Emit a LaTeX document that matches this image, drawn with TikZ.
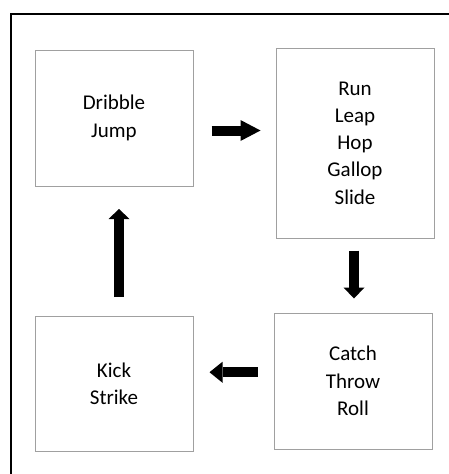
\documentclass[tikz,border=0pt]{standalone}
\usepackage{fontspec}
\setmainfont{Carlito}
\usetikzlibrary{arrows.meta,calc}

\begin{document}
\begin{tikzpicture}[x=1pt,y=-1pt]
    % Define colors
    \definecolor{boxcolor}{RGB}{160,160,160}
    \tikzset{
        skill/.style={draw=boxcolor, line width=1pt, minimum width=158pt, inner sep=0pt,
            align=center, font=\fontsize{21}{27.3}\selectfont},
        blockarrow/.style={line width=10pt, -{Triangle[length=#1, width=21pt, line width=0pt]}},
        blockarrow/.default=12pt
    }

    % Page size
    \useasboundingbox (0,0) rectangle (449,474);

    % Outer frame
    \draw[line width=2pt] (11,474) -- (11,14) -- (449,14);

    % Skill boxes
    \node[skill, minimum height=136pt] (dribble) at (114,118) {Dribble\\Jump};
    \node[skill, minimum height=190pt] (run) at (355,143) {Run\\Leap\\Hop\\Gallop\\Slide};
    \node[skill, minimum height=136pt] (catch) at (353,381) {Catch\\Throw\\Roll};
    \node[skill, minimum height=135pt] (kick) at (114,383.5) {Kick\\Strike};

    % Arrows between the boxes
    \coordinate (toRun) at ($(dribble.east)!.5!(run.west)$);
    \coordinate (toCatch) at ($(run.south)!.5!(catch.north)$);
    \coordinate (toKick) at ($(catch.west)!.5!(kick.east)$);
    \coordinate (toDribble) at ($(kick.north)!.5!(dribble.south)$);

    \draw[blockarrow=20pt] ([xshift=-23pt]toRun) -- ([xshift=26pt]toRun);
    \draw[blockarrow=11pt] ([yshift=25pt]toCatch) -- ([yshift=-23pt]toCatch);
    \draw[blockarrow=13pt] ([shift={(24pt,10pt)}]toKick) -- ([shift={(-24pt,10pt)}]toKick);
    \draw[blockarrow=10pt] ([shift={(5pt,-46pt)}]toDribble) -- ([shift={(5pt,42pt)}]toDribble);
\end{tikzpicture}
\end{document}
